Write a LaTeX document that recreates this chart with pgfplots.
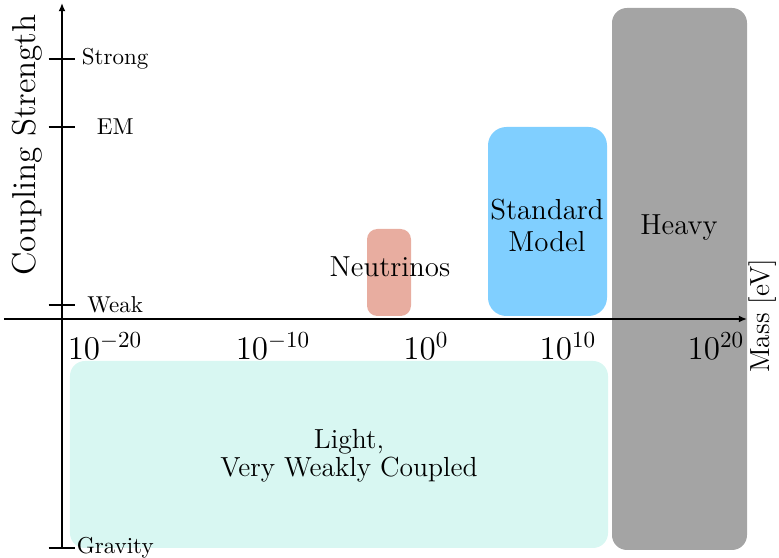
\documentclass[border=0pt]{standalone}
\usepackage{pgfplots}
\pgfplotsset{compat=1.18}
\usetikzlibrary{arrows.meta}

\definecolor{lightbox}{RGB}{216,247,242}
\definecolor{nubox}{RGB}{232,173,160}
\definecolor{smbox}{RGB}{128,207,255}
\definecolor{heavybox}{RGB}{164,164,164}

\begin{document}
\begin{tikzpicture}
% fixed frame of the picture (1 unit = 0.435pt)
\useasboundingbox (-26.97pt,-103.965pt) rectangle (311.895pt,138.765pt);
\begin{axis}[
  at={(0,0)}, anchor=origin,
  x=0.435pt, y=0.435pt,
  xmin=-58, xmax=685,
  ymin=-229, ymax=316,
  enlargelimits=false,
  clip=false,
  axis on top,
  axis lines=middle,
  axis line style={line width=0.7pt, -{Latex[length=3.5pt,width=3pt]}},
  xtick={43,211,364,506,654},
  xticklabels={$10^{-20}$,$10^{-10}$,$10^{0}$,$10^{10}$,$10^{20}$},
  xticklabel style={font=\Large, yshift=3.5pt},
  xtick style={draw=none},
  ytick={-229,14,192,260},
  yticklabels={Gravity,Weak,EM,Strong},
  yticklabel style={anchor=center, xshift=29pt},
  ytick style={line width=0.7pt, black},
  tick align=center,
  major tick length=11.7pt,
]
% regions of the mass--coupling plane
\addplot[draw=none, fill=lightbox, rounded corners=6.5pt]
  coordinates {(8,-42) (546,-42) (546,-229) (8,-229)} -- cycle;
\addplot[draw=none, fill=nubox, rounded corners=4.5pt]
  coordinates {(305,3) (349,3) (349,90) (305,90)} -- cycle;
\addplot[draw=none, fill=smbox, rounded corners=8pt]
  coordinates {(426,3) (545,3) (545,192) (426,192)} -- cycle;
\addplot[draw=none, fill=heavybox, rounded corners=6.5pt]
  coordinates {(550,-231) (685,-231) (685,311) (550,311)} -- cycle;

% region names (base anchor sits on the last line)
\node[anchor=base, font=\fontsize{12.6}{14.2}\selectfont] at (axis cs:328,42) {Neutrinos};
\node[anchor=base, font=\fontsize{12.6}{14.2}\selectfont, align=center] at (axis cs:485,67) {Standard\\Model};
\node[anchor=base, font=\fontsize{12.6}{14.2}\selectfont] at (axis cs:617,84) {Heavy};
\node[anchor=base, font=\large, align=center] at (axis cs:287,-158) {Light,\\[-1.8pt]Very Weakly Coupled};

% axis titles
\node[rotate=90, font=\Large] at (axis cs:-35,174) {Coupling Strength};
\node[rotate=90, font=\large] at (axis cs:701,3) {Mass [eV]};
\end{axis}
\end{tikzpicture}
\end{document}
